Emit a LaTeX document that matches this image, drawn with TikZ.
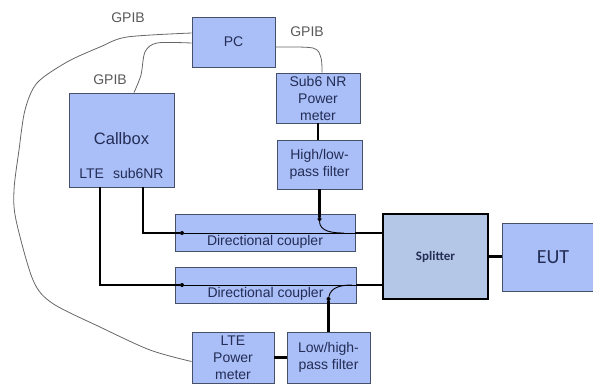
\documentclass[tikz,border=0pt]{standalone}
\usepackage{fontspec}
\setmainfont{Liberation Sans}
\newfontfamily\calibri{Carlito}
\usepackage{xcolor}
\usepackage{tikz}
\usetikzlibrary{calc}
\definecolor{boxblue}{RGB}{170,190,248}
\definecolor{splitblue}{RGB}{180,199,231}
\definecolor{boxline}{RGB}{70,80,105}
\definecolor{txtblue}{RGB}{35,45,85}
\tikzstyle{device}   = [rectangle, draw=boxline, line width=0.9pt, fill=boxblue, text=txtblue, align=center, inner sep=0pt, font=\fontsize{14}{17}\selectfont]
\tikzstyle{splitbox} = [rectangle, draw=black, line width=2pt, fill=splitblue, text=txtblue, inner sep=0pt, font=\calibri\bfseries\fontsize{13}{15}\selectfont]
\tikzstyle{tag}      = [text=txtblue, inner sep=0pt, font=\fontsize{14}{17}\selectfont]
\tikzstyle{bus}      = [text=black!65, inner sep=0pt, font=\fontsize{14}{17}\selectfont]
\tikzstyle{tap}      = [circle, fill=black, inner sep=0pt, minimum size=4pt]
\tikzstyle{rf}       = [line width=2.6pt, black]
\tikzstyle{rfthin}   = [line width=0.9pt, black]
\tikzstyle{gpib}     = [line width=0.8pt, black!60]

\begin{document}
\begin{tikzpicture}[x=1pt, y=-1pt]
    \useasboundingbox (0,0) rectangle (593,384);
    \clip (0,0) rectangle (593,384);

    \node (pc)       [device, minimum width=83pt,  minimum height=50pt] at (233.5,42)  {PC};
    \node (callbox)  [device, minimum width=105pt, minimum height=94pt] at (121.5,140) {};
    \node (cbtitle)  [tag, font=\fontsize{16.5}{20}\selectfont] at (121.5,139) {Callbox};
    \node (cbports)  [tag] at (121.5,173) {LTE\hspace{9pt}sub6NR};
    \node (smeter)   [device, minimum width=84pt,  minimum height=50pt] at (318,98)    {Sub6 NR\\Power\\meter};
    \node (hfilter)  [device, minimum width=85pt,  minimum height=49pt] at (319.5,164.5) {High/low-\\pass filter};
    \node (dc1)      [device, minimum width=180pt, minimum height=37pt] at (265,232.5) {};
    \node (dc1txt)   [tag] at (265,242) {Directional coupler};
    \node (dc2)      [device, minimum width=181pt, minimum height=36pt] at (265.5,285) {};
    \node (dc2txt)   [tag] at (265.5,294) {Directional coupler};
    \node (lmeter)   [device, minimum width=82pt,  minimum height=51pt] at (233,357.5) {LTE\\Power\\meter};
    \node (lfilter)  [device, minimum width=83pt,  minimum height=51pt] at (328.5,357.5) {Low/high-\\pass filter};
    \node (splitter) [splitbox, minimum width=105pt, minimum height=85pt] at (435.5,256.5) {Splitter};
    \node (eut)      [device, font=\calibri\fontsize{20}{24}\selectfont, minimum width=102pt, minimum height=68pt] at (553,257) {EUT};

    % taps of the couplers
    \node (d1)   [tap] at (182,233) {};
    \node (d2)   [tap] at (182,285) {};
    \node (tap1) [tap] at (319.5,219) {};
    \node (tap2) [tap] at (328.5,299) {};
    \coordinate (j1) at (344,233);
    \coordinate (j2) at (352,285);

    % sub6 NR path
    \draw [rf] ([xshift=21.5pt]callbox.south) |- (d1);
    \draw [rfthin] (d1) -- (dc1.east |- d1);
    \draw [rf] (dc1.east |- d1) -- (splitter.west |- d1);
    \draw [rf] (smeter.south) -- (smeter.south |- hfilter.north);
    \draw [rf] (hfilter.south) -- (tap1);
    \draw [rfthin] (tap1) to[out=-90, in=180] (j1);

    % LTE path
    \draw [rf] ([xshift=-21.5pt]callbox.south) |- (d2);
    \draw [rfthin] (d2) -- (dc2.east |- d2);
    \draw [rf] (dc2.east |- d2) -- (splitter.west |- d2);
    \draw [rfthin] (tap2) to[out=80, in=180] (j2);
    \draw [rf] (tap2) -- (lfilter.north);
    \draw [rf] (lmeter.east) -- (lmeter.east -| lfilter.west);

    \draw [rf] (splitter.east) -- (splitter.east -| eut.west);

    % GPIB cables
    \draw [gpib] plot[smooth, tension=0.5] coordinates {([yshift=9pt]pc.west) (127,37) (100,47) (67,62) (37,83) (25,110) (19,150) (14,190) (16,220) (33,280) (52,303) (100,327) (150,350) ([yshift=-4pt]lmeter.west)};
    \draw [gpib] plot[smooth, tension=0.5] coordinates {([yshift=-1pt]pc.west) (157,43) (145,52) (141,75) ([xshift=12.5pt]callbox.north)};
    \draw [gpib] plot[smooth, tension=0.5] coordinates {([yshift=-5pt]pc.east) (313,48) (321,58) ([xshift=4pt]smeter.north)};

    \node (gp1) [bus] at (128,18) {GPIB};
    \node (gp2) [bus] at (110,80) {GPIB};
    \node (gp3) [bus] at (307,32) {GPIB};
\end{tikzpicture}
\end{document}
